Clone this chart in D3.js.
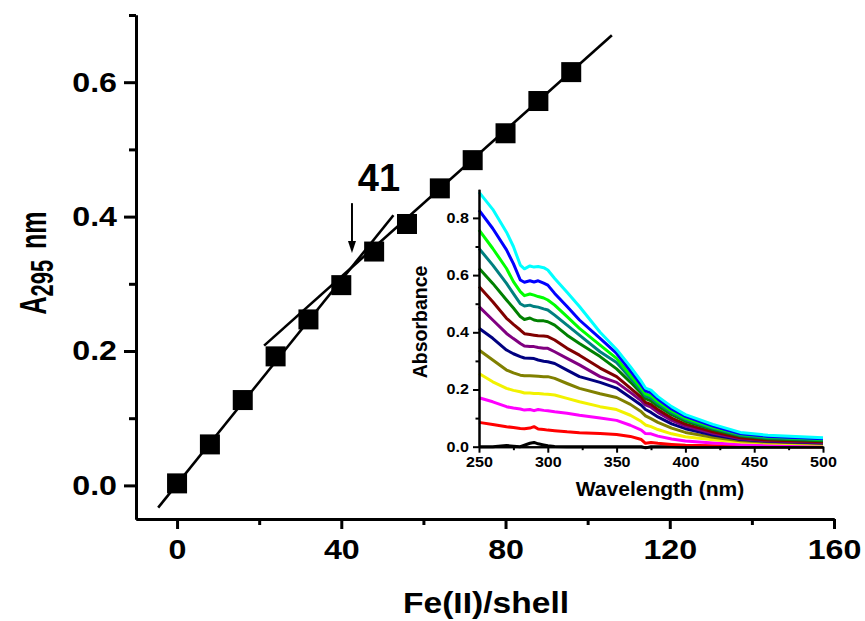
<!DOCTYPE html>
<html><head><meta charset="utf-8">
<script src="https://cdn.jsdelivr.net/npm/d3@7"></script>
<style>
html,body{margin:0;padding:0;background:#fff;}
text{font-family:"Liberation Sans",Arial,sans-serif;font-weight:bold;fill:#000;}
</style></head>
<body><svg id="c" width="865" height="621"></svg>
<script>
// ---- main data ----
const ratio = [0, 8, 16, 24, 32, 40, 48, 56, 64, 72, 80, 88, 96];
const a295  = [0.003, 0.061, 0.127, 0.192, 0.247, 0.298, 0.348, 0.389, 0.442, 0.484, 0.524, 0.572, 0.615];
const fit1X = [-4.6, 52.7], fit1Y = [-0.033, 0.402];
const fit2X = [21.2, 105.9], fit2Y = [0.208, 0.670];
const xMajor = [0, 40, 80, 120, 160], xMinor = [20, 60, 100, 140];
const yMajor = [0.0, 0.2, 0.4, 0.6], yMinor = [0.1, 0.3, 0.5, 0.7];
const breakLabel = "41", arrowX = 42.6, arrowY = [0.42, 0.346];

// ---- inset data ----
const wl = [250,260,270,275,280,283,287,290,293,297,300,305,314,323,338,350,360,368,371,375,380,390,400,420,440,460,500];
const sBlack  = [0,0,.004,.002,0,.005,.012,.015,.01,.006,.003,.001,0,0,0,0,0,0,-.004,0,0,0,-.002,-.002,-.002,-.002,-.002];
const sRed    = [.085,.078,.07,.067,.064,.063,.065,.07,.062,.06,.058,.056,.052,.049,.046,.043,.036,.025,.012,.015,.012,.008,.005,.003,.002,.001,0];
const sMagenta= [.171,.157,.14,.135,.132,.128,.13,.126,.13,.127,.126,.122,.117,.11,.1,.092,.075,.058,.046,.045,.037,.027,.02,.013,.008,.006,.004];
const sYellow = [.256,.227,.204,.197,.192,.188,.188,.186,.186,.184,.183,.181,.169,.157,.14,.13,.11,.088,.076,.07,.06,.045,.035,.024,.016,.013,.009];
const sOlive  = [.338,.303,.268,.258,.25,.248,.248,.247,.246,.245,.245,.239,.221,.204,.185,.172,.148,.122,.108,.098,.085,.065,.05,.033,.021,.016,.011];
const sNavy   = [.414,.379,.338,.325,.315,.31,.309,.308,.303,.299,.297,.291,.268,.245,.225,.205,.172,.145,.13,.12,.104,.08,.063,.041,.025,.019,.013];
const sPurple = [.49,.443,.396,.378,.361,.352,.35,.35,.347,.344,.344,.332,.309,.286,.245,.225,.19,.16,.146,.138,.12,.092,.072,.047,.028,.021,.015];
const sWine   = [.56,.507,.449,.428,.408,.395,.392,.39,.388,.387,.385,.373,.344,.32,.275,.245,.205,.172,.155,.148,.13,.10,.079,.052,.031,.023,.017];
const sDkGreen= [.624,.571,.513,.485,.455,.445,.45,.443,.44,.44,.437,.425,.39,.361,.315,.272,.226,.186,.168,.16,.142,.112,.089,.06,.037,.028,.021];
const sTeal   = [.693,.635,.571,.535,.50,.492,.495,.49,.488,.482,.478,.46,.425,.39,.332,.294,.24,.196,.177,.17,.151,.119,.095,.064,.04,.031,.024];
const sGreen  = [.758,.693,.623,.577,.542,.528,.534,.53,.525,.52,.513,.495,.455,.414,.355,.309,.25,.204,.185,.178,.158,.125,.10,.068,.043,.034,.026];
const sBlue   = [.827,.763,.688,.64,.583,.575,.58,.576,.58,.572,.565,.536,.49,.443,.379,.326,.265,.215,.195,.188,.167,.132,.106,.072,.045,.036,.028];
const sCyan   = [.89,.83,.75,.70,.635,.622,.632,.628,.63,.626,.618,.588,.54,.49,.40,.34,.28,.228,.205,.198,.175,.14,.112,.078,.05,.04,.031];
const spectra = [sBlack,sRed,sMagenta,sYellow,sOlive,sNavy,sPurple,sWine,sDkGreen,sTeal,sGreen,sBlue,sCyan];
const specColors = ["#000000","#ff0000","#ff00ff","#f2f200","#808000","#000080","#800080","#800000","#008000","#008080","#00ff00","#0000ff","#00ffff"];
const ixMajor = [250,300,350,400,450,500], ixMinor = [275,325,375,425,475];
const iyMajor = [0,0.2,0.4,0.6,0.8], iyMinor = [0.1,0.3,0.5,0.7];

const svg = d3.select("#c");

// ---- main scales ----
const x = d3.scaleLinear().domain([-10, 160]).range([136, 834]);
const y = d3.scaleLinear().domain([-0.05, 0.70]).range([519, 15]);

function styleAxis(g, w) {
  g.select(".domain").attr("stroke", "#000").attr("stroke-width", w);
  g.selectAll(".tick line").attr("stroke", "#000").attr("stroke-width", w);
}
function scaleLeftText(g, s) {
  g.selectAll(".tick text").each(function () {
    const t = d3.select(this); const tx = +t.attr("x");
    t.attr("x", 0).attr("transform", `translate(${tx},0) scale(${s},1)`);
  });
}

// main x axis
const gx = svg.append("g").attr("transform", `translate(0,${y(-0.05)})`);
gx.call(d3.axisBottom(x).tickValues(xMajor).tickSize(10).tickSizeOuter(0).tickPadding(10).tickFormat(d3.format("d")));
gx.selectAll(".tick text").attr("font-size", 28).attr("transform", "scale(1.15,1)");
styleAxis(gx, 3);
const gxm = svg.append("g").attr("transform", `translate(0,${y(-0.05)})`);
gxm.call(d3.axisBottom(x).tickValues(xMinor).tickSize(6).tickSizeOuter(0).tickFormat(""));
styleAxis(gxm, 3);

// main y axis
const gy = svg.append("g").attr("transform", `translate(${x(-10)},0)`);
gy.call(d3.axisLeft(y).tickValues(yMajor).tickSize(12).tickSizeOuter(0).tickPadding(7).tickFormat(d3.format(".1f")));
gy.selectAll(".tick text").attr("font-size", 28);
scaleLeftText(gy, 1.15);
styleAxis(gy, 3);
const gym = svg.append("g").attr("transform", `translate(${x(-10)},0)`);
gym.call(d3.axisLeft(y).tickValues(yMinor).tickSize(7).tickSizeOuter(0).tickFormat(""));
styleAxis(gym, 3);
svg.selectAll(".domain").attr("fill", "none");
svg.selectAll(".tick text").attr("font-family", '"Liberation Sans",Arial,sans-serif').attr("font-weight", "bold");

// fit lines
const line = d3.line().x(d => x(d[0])).y(d => y(d[1]));
[[fit1X, fit1Y], [fit2X, fit2Y]].forEach(([fx, fy]) => {
  svg.append("path").attr("d", line(d3.zip(fx, fy))).attr("fill", "none").attr("stroke", "#000").attr("stroke-width", 2.6);
});

// squares
const sq = 20;
svg.append("g").selectAll("rect").data(d3.zip(ratio, a295)).join("rect")
  .attr("x", d => x(d[0]) - sq / 2).attr("y", d => y(d[1]) - sq / 2)
  .attr("width", sq).attr("height", sq).attr("fill", "#000");

// arrow + label
const ax = x(arrowX);
svg.append("line").attr("x1", ax).attr("x2", ax).attr("y1", y(arrowY[0])).attr("y2", y(arrowY[1]) - 10)
  .attr("stroke", "#000").attr("stroke-width", 2);
svg.append("path").attr("d", `M${ax - 4},${y(arrowY[1]) - 12}L${ax + 4},${y(arrowY[1]) - 12}L${ax},${y(arrowY[1])}Z`).attr("fill", "#000");
svg.append("text").attr("x", 379).attr("y", 191).attr("text-anchor", "middle").attr("font-size", 38).text(breakLabel);

// axis titles
svg.append("text").attr("transform", "translate(486,613) scale(1.12,1)").attr("text-anchor", "middle").attr("font-size", 30).text("Fe(II)/shell");
const yt = svg.append("text").attr("transform", "translate(46,263) rotate(-90) scale(1,1.45)").attr("text-anchor", "middle").attr("font-size", 25);
yt.append("tspan").text("A");
yt.append("tspan").attr("font-size", 22).attr("dy", 5).text("295");
yt.append("tspan").attr("dy", -5).attr("dx", 4).text(" nm");

// ---- inset ----
const ix = d3.scaleLinear().domain([250, 500]).range([479, 823]);
const iy = d3.scaleLinear().domain([0, 0.9]).range([446.7, 189.3]);
const ig = svg.append("g");
const iline = d3.line().x((d, i) => ix(wl[i])).y(d => iy(d));
spectra.forEach((s, k) => {
  ig.append("path").attr("d", iline(s)).attr("fill", "none").attr("stroke", specColors[k]).attr("stroke-width", 3).attr("stroke-linejoin", "round");
});
const igx = svg.append("g").attr("transform", `translate(0,${iy(0)})`);
igx.call(d3.axisBottom(ix).tickValues(ixMajor).tickSize(6).tickSizeOuter(0).tickPadding(4).tickFormat(d3.format("d")));
igx.selectAll(".tick text").attr("font-size", 14).attr("transform", "scale(1.15,1)");
styleAxis(igx, 2);
const igxm = svg.append("g").attr("transform", `translate(0,${iy(0)})`);
igxm.call(d3.axisBottom(ix).tickValues(ixMinor).tickSize(3.5).tickSizeOuter(0).tickFormat(""));
styleAxis(igxm, 2);
const igy = svg.append("g").attr("transform", `translate(${ix(250)},0)`);
igy.call(d3.axisLeft(iy).tickValues(iyMajor).tickSize(6).tickSizeOuter(0).tickPadding(4).tickFormat(d3.format(".1f")));
igy.selectAll(".tick text").attr("font-size", 14);
scaleLeftText(igy, 1.15);
styleAxis(igy, 2);
const igym = svg.append("g").attr("transform", `translate(${ix(250)},0)`);
igym.call(d3.axisLeft(iy).tickValues(iyMinor).tickSize(3.5).tickSizeOuter(0).tickFormat(""));
styleAxis(igym, 2);
svg.selectAll(".domain").attr("fill", "none");
svg.selectAll(".tick text").attr("font-family", '"Liberation Sans",Arial,sans-serif').attr("font-weight", "bold").attr("fill", "#000");

svg.append("text").attr("x", 660).attr("y", 496).attr("text-anchor", "middle").attr("font-size", 21).text("Wavelength (nm)");
svg.append("text").attr("transform", "translate(427,322) rotate(-90)").attr("text-anchor", "middle").attr("font-size", 19.5).text("Absorbance");
</script></body></html>
